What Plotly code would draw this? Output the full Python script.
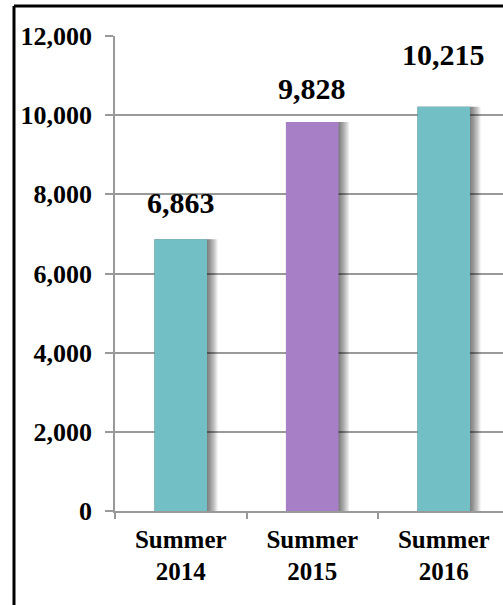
import plotly.graph_objects as go

categories = ["Summer<br>2014", "Summer<br>2015", "Summer<br>2016"]
values = [6863, 9828, 10215]
bar_colors = ["#72BFC5", "#A67FC6", "#72BFC5"]
label_texts = ["6,863", "9,828", "10,215"]
label_shift = [37, 33, 52]

FONT = "Liberation Serif"
BW = 0.40

fig = go.Figure()

# soft shadow on the right of each bar
for k in range(1, 9):
    fig.add_trace(go.Bar(
        x=categories, y=values,
        width=BW + 0.010 * k, offset=-BW / 2,
        marker=dict(color="rgba(0,0,0,0.08)", line=dict(width=0)),
        hoverinfo="skip", showlegend=False,
    ))

fig.add_trace(go.Bar(
    x=categories, y=values,
    width=BW, offset=-BW / 2,
    marker=dict(color=bar_colors, line=dict(width=0)),
    showlegend=False,
))

for c, v, t, s in zip(categories, values, label_texts, label_shift):
    fig.add_annotation(x=c, y=v, text="<b>%s</b>" % t, showarrow=False,
                       yanchor="middle", yshift=s,
                       font=dict(family=FONT, size=30, color="black"))

L, R, T, B = 115, 0, 36, 94
W, H = 503, 605
pw = W - L - R
ph = H - T - B

fig.update_layout(
    width=W, height=H,
    margin=dict(l=L, r=R, t=T, b=B, pad=0),
    barmode="overlay",
    plot_bgcolor="white", paper_bgcolor="white",
    font=dict(family=FONT, color="black"),
    shapes=[
        dict(type="line", xref="paper", yref="paper",
             x0=(14 - L) / pw, x1=(14 - L) / pw,
             y0=(H - B - 6) / ph, y1=-(B + 5) / ph,
             line=dict(color="black", width=3)),
        dict(type="line", xref="paper", yref="paper",
             x0=(14 - L) / pw, x1=1.05,
             y0=(H - B - 6) / ph, y1=(H - B - 6) / ph,
             line=dict(color="black", width=3)),
    ],
)

cat_px = 131.5
fig.update_xaxes(
    type="category",
    range=[-0.5, -0.5 + pw / cat_px],
    tickson="boundaries",
    ticks="outside", ticklen=6, tickcolor="#999999", tickwidth=1.5,
    showline=True, linecolor="#999999", linewidth=1.5,
    showgrid=False,
    ticklabelstandoff=5,
    tickfont=dict(family=FONT, size=25, color="black", weight="bold"),
)
fig.update_yaxes(
    range=[0, 12000], dtick=2000, tickformat=",",
    ticks="outside", ticklen=8, tickcolor="#999999", tickwidth=1.5,
    showline=True, linecolor="#999999", linewidth=1.5,
    showgrid=True, gridcolor="#999999", gridwidth=1.5,
    zeroline=False,
    ticklabelstandoff=8,
    tickfont=dict(family=FONT, size=26, color="black", weight="bold"),
)

fig.write_html("out.html",
               config={"displayModeBar": False},
               post_script="document.body.style.margin='0';"
                           "document.body.style.overflow='hidden';")
